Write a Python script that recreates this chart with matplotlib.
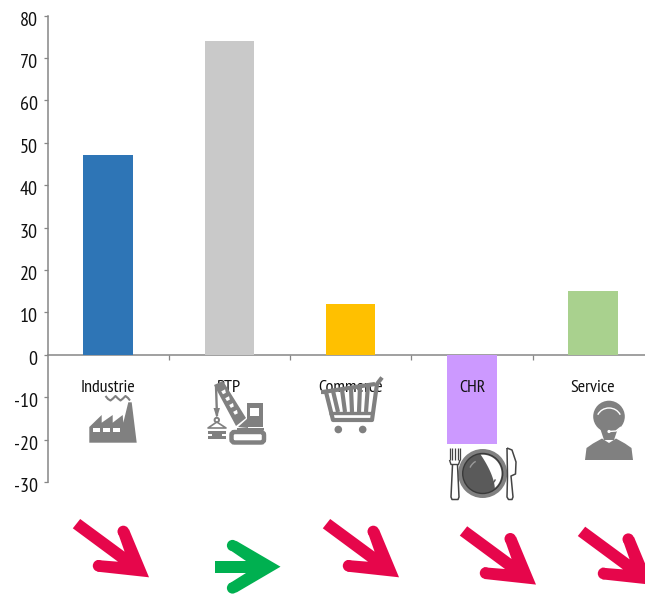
import numpy as np
import matplotlib
matplotlib.use("Agg")
import matplotlib.pyplot as plt
from matplotlib.patches import Polygon, Circle, Rectangle, FancyBboxPatch, Arc
from matplotlib.transforms import blended_transform_factory, ScaledTranslation
import logging
logging.getLogger("matplotlib.font_manager").setLevel(logging.ERROR)

categories = ["Industrie", "BTP", "Commerce", "CHR", "Service"]
values = [47, 74, 12, -21, 15]
bar_colors = ["#2E75B6", "#C9C9C9", "#FFC000", "#CC99FF", "#A9D18E"]
y_ticks = [-30, -20, -10, 0, 10, 20, 30, 40, 50, 60, 70, 80]

W, H = 645, 594
plt.rcParams['font.family'] = ['PT Sans Narrow', 'Archivo Narrow', 'Roboto Condensed', 'Liberation Sans', 'DejaVu Sans']
plt.rcParams['axes.unicode_minus'] = False
fig = plt.figure(figsize=(W / 100, H / 100), dpi=100, facecolor="white")
AX = "#868686"
ICON = "#808080"
RED = "#E6064B"
GREEN = "#00B050"

left, right, top, bottom = 47.5, 645, 15.5, 482
ax = fig.add_axes([left / W, 1 - bottom / H, (right - left) / W, (bottom - top) / H])
ax.set_xlim(-0.5, (right - left) / 121.25 - 0.5)
ax.set_ylim(-30, 80)
x = np.arange(len(categories))
ax.bar(x, values, width=0.41, color=bar_colors, zorder=3)
for s in ("top", "right"):
    ax.spines[s].set_visible(False)
ax.spines["bottom"].set_position(("data", 0))
for s in ("left", "bottom"):
    ax.spines[s].set_color(AX)
    ax.spines[s].set_linewidth(1.1)
ax.set_yticks(y_ticks)
ax.tick_params(axis="y", length=3.2, width=0.9, color=AX, labelsize=14.5, pad=4, labelcolor="#111111")
down = ScaledTranslation(0, -3 / 100, fig.dpi_scale_trans)
for lbl in ax.get_yticklabels():
    lbl.set_transform(lbl.get_transform() + down)
ax.set_xticks(x[:-1] + 0.5)
ax.set_xticklabels([])
ax.tick_params(axis="x", length=3.8, width=0.9, color=AX, direction="out")
ax.patch.set_alpha(0)
tr = blended_transform_factory(ax.transData, fig.transFigure)
for xi, c in zip(x, categories):
    ax.text(xi, 1 - 388.5 / H, c, transform=tr, ha="center", va="center",
            fontsize=13, color="#111111", zorder=4)

# overlay in pixel coordinates for pictograms and arrows
ov = fig.add_axes([0, 0, 1, 1], zorder=5)
ov.set_xlim(0, W)
ov.set_ylim(H, 0)
ov.axis("off")
ov.patch.set_alpha(0)


def poly(pts, fc=ICON, **kw):
    ov.add_patch(Polygon(pts, closed=True, fc=fc, ec="none", **kw))


def rect(x0, y0, x1, y1, fc=ICON):
    ov.add_patch(Rectangle((x0, y0), x1 - x0, y1 - y0, fc=fc, ec="none"))


def line(xs, ys, lw=2.0, c=ICON, cap="butt"):
    ov.plot(xs, ys, color=c, lw=lw, solid_capstyle=cap, solid_joinstyle="round")


# factory
poly([(89.3, 442.7), (89.3, 427), (101.7, 415), (101.7, 422.7), (112.7, 415), (112.7, 422.7),
      (122.7, 415), (123.3, 422.7), (128.3, 402.3), (131.7, 402.3), (136.7, 442.7)])
for x0 in (93.3, 103.3, 113.3):
    rect(x0, 428.3, x0 + 6.7, 432.3, "white")
sx = [105.5, 108, 110.5, 113, 115.5, 118, 120.5, 123, 125.5, 128, 130]
sy = [396, 399, 400.5, 398.5, 396, 398.5, 400.5, 398.5, 396, 398, 400.5]
line(sx, sy, lw=1.5)

# crane
rect(246.7, 402.7, 263.3, 427.3)
rect(250, 407.7, 259, 416, "white")
poly([(237, 427.5), (264, 427.5), (264, 429.5), (237, 429.5)])
poly([(238, 427), (248, 418), (248, 428)])
ov.add_patch(FancyBboxPatch((231.5, 432), 32.5, 10.5, boxstyle="round,pad=0,rounding_size=3", fc="none", ec=ICON, lw=3.2))
poly([(214, 385), (223, 381), (246, 418), (236, 426)])
for t in (0.18, 0.36, 0.54, 0.72):
    cx, cy = 218.5 + t * 22, 383 + t * 38
    poly([(cx - 1.2, cy + 1.5), (cx + 2.6, cy - 0.5), (cx + 3.4, cy + 3), (cx + 0.5, cy + 4.4)], fc="white")
line([216, 217], [386, 416], lw=1.7)
poly([(213.5, 408), (220, 408), (216.8, 418)])
ov.add_patch(Circle((216.8, 420), 2.2, fc="none", ec=ICON, lw=1.4))
line([216.8, 208, 226, 216.8], [422, 428, 428, 422], lw=1.2)
poly([(208, 431), (226, 431), (226, 434), (222, 434), (222, 436), (226, 436), (226, 438.5),
      (208, 438.5), (208, 436), (212, 436), (212, 434), (208, 434)])

# cart
line([321, 326, 333, 372, 377, 382], [392, 392, 420, 420, 384, 377.5], lw=3.0)
line([323, 375], [392, 384], lw=3.0)
for xt, xb, yt in ((333, 338, 391), (342, 345, 389.5), (351, 352, 388), (360, 359, 386.5), (368, 366, 385)):
    line([xt, xb], [yt, 412], lw=3.0)
line([329, 373], [412.5, 412.5], lw=2.4)
for cx in (338.3, 362.7):
    ov.add_patch(Circle((cx, 429.5), 3.8, fc=ICON, ec="none"))

# plate
pc = (482.7, 473.5)
ov.add_patch(Circle(pc, 24.5, fc=ICON, ec="none"))
ov.add_patch(Circle(pc, 20, fc="#5A5A5A", ec="#3A3A3A", lw=1.0))
ang = np.radians(np.linspace(-90, 50, 50))
outer = np.c_[pc[0] + 18.8 * np.cos(ang), pc[1] + 18.8 * np.sin(ang)]
t = np.linspace(0, 1, 25)
# concave inner edge running from the lower right back to the top of the disc
inner = np.c_[outer[-1, 0] + (pc[0] - 2 - outer[-1, 0]) * t ** 1.6,
              outer[-1, 1] + (pc[1] - 18.8 - outer[-1, 1]) * t]
poly(np.r_[outer, inner], fc="white")
ov.add_patch(Arc(pc, 28, 28, theta1=205, theta2=240, color="#9A9A9A", lw=1.0))
ov.add_patch(Arc(pc, 28, 28, theta1=25, theta2=55, color="#555555", lw=1.0))
# fork
for xf in (449.5, 452, 454.5, 457.5, 460):
    line([xf, xf], [447.5, 460], lw=0.9, c="#444444")
line([449.5, 451, 458.5, 460], [460, 464.5, 464.5, 460], lw=1.0, c="#444444")
poly([(452.5, 465), (457.5, 465), (459, 497), (458, 499.5), (452, 499.5), (451, 497)], fc="white")
line([452.5, 451, 452, 458, 459, 457.5], [465, 497, 499.5, 499.5, 497, 465], lw=1.1, c="#444444")
# knife
poly([(507, 448), (512, 450), (516, 462), (515.5, 474), (511, 476), (513, 497), (512, 499.5),
      (508.5, 499.5), (507, 497), (507.5, 476)], fc="white")
line([507, 512, 516, 515.5, 511, 513, 512, 508.5, 507, 507.5, 507],
     [448, 450, 462, 474, 476, 497, 499.5, 499.5, 497, 476, 448], lw=1.1, c="#444444")

# person
ov.add_patch(Circle((609, 416.5), 15.8, fc=ICON, ec="none"))
ov.add_patch(Arc((609, 420), 25, 24, theta1=205, theta2=335, color="white", lw=1.0))
poly([(585, 460), (586.5, 448), (593, 443.5), (602, 438.5), (609, 443), (616, 438.5), (625, 443.5),
      (631.5, 448), (633, 460)])
poly([(600, 428), (618, 428), (614, 440), (604, 440)])
line([609, 616, 621], [431.5, 431, 427], lw=1.0, c="white")
ov.add_patch(Circle((609, 431.5), 1.6, fc="white", ec="none"))


# arrows (reference geometry of a single arrow, translated for each position)
def red_arrow(dx, dy):
    p = [(72.8, 528.3), (80.2, 519), (124.6, 551.7), (118, 533), (129, 529.3), (149, 577.3),
         (97.5, 571.7), (96.7, 560), (118, 561.7)]
    poly([(a + dx, b + dy) for a, b in p], fc=RED)
    ov.add_patch(Circle((123.3 + dx, 531.5 + dy), 5.8, fc=RED, ec="none"))
    ov.add_patch(Circle((98.6 + dx, 565.8 + dy), 5.8, fc=RED, ec="none"))


for dx, dy in ((0, 0), (250, 0), (387, 7.3), (505, 7.7)):
    red_arrow(dx, dy)

poly([(215, 561), (246, 561), (228.5, 549), (236.5, 541), (280.5, 566.7), (236.5, 592.5),
      (228.5, 584), (246, 573), (215, 573)], fc=GREEN)
ov.add_patch(Circle((232.5, 545.5), 5.6, fc=GREEN, ec="none"))
ov.add_patch(Circle((232.5, 588), 5.6, fc=GREEN, ec="none"))

fig.savefig("out.png", dpi=100)
